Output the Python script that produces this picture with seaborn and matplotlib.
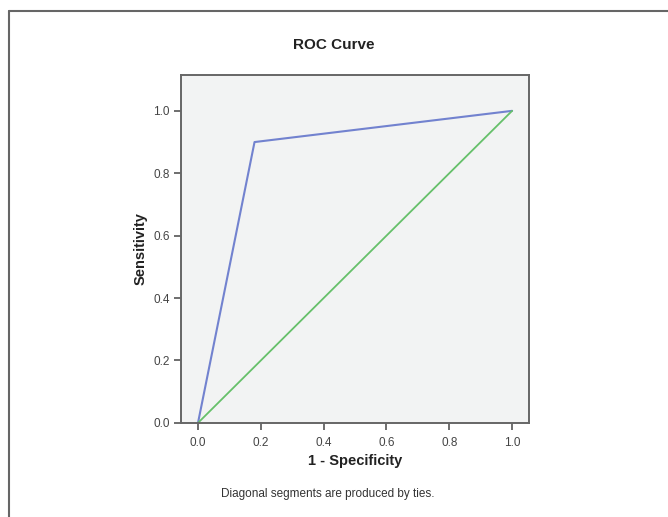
import numpy as np
import pandas as pd
import matplotlib
matplotlib.use("Agg")
import matplotlib.pyplot as plt
import seaborn as sns

# Dados da curva ROC
fpr = [0.0, 0.18, 1.0]
tpr = [0.0, 0.90, 1.0]
ref_x = [0.0, 1.0]
ref_y = [0.0, 1.0]
ticks = [0.0, 0.2, 0.4, 0.6, 0.8, 1.0]
tick_labels = ["0.0", "0.2", "0.4", "0.6", "0.8", "1.0"]

sns.set_theme(style="ticks")
plt.rcParams['font.family'] = ['Liberation Sans', 'DejaVu Sans']

fig = plt.figure(figsize=(6.68, 5.17), dpi=100)
ax = fig.add_axes([0.271, 0.182, 0.521, 0.673])
ax.set_facecolor("#f2f3f3")

roc = pd.DataFrame({"x": fpr, "y": tpr})
ref = pd.DataFrame({"x": ref_x, "y": ref_y})
sns.lineplot(data=roc, x="x", y="y", ax=ax, color="#7282cf", linewidth=1.5, sort=False)
sns.lineplot(data=ref, x="x", y="y", ax=ax, color="#66c06a", linewidth=1.3, sort=False)

ax.set_xlim(-0.054, 1.054)
ax.set_ylim(0.0, 1.115)
ax.set_xticks(ticks)
ax.set_xticklabels(tick_labels)
ax.set_yticks(ticks)
ax.set_yticklabels(tick_labels)
ax.tick_params(axis="both", direction="out", length=5, width=1.2, color="#555555",
               labelsize=8.5, labelcolor="#444444", pad=3)
ax.tick_params(axis="x", pad=5)

for side in ["left", "right", "top", "bottom"]:
    ax.spines[side].set_visible(True)
    ax.spines[side].set_color("#666666")
    ax.spines[side].set_linewidth(1.4)

ax.set_xlabel("1 - Specificity", fontsize=10.5, fontweight="bold", color="#222222", labelpad=4)
ax.set_ylabel("Sensitivity", fontsize=10.5, fontweight="bold", color="#222222", labelpad=4)

fig.text(0.5, 0.913, "ROC Curve", ha="center", va="center", fontsize=11,
         fontweight="bold", color="#222222")
fig.text(0.49, 0.045, "Diagonal segments are produced by ties.", ha="center",
         va="center", fontsize=8.5, color="#333333")

# Moldura externa
fig.add_artist(plt.Line2D([0.0135, 0.0135], [0.0, 0.979], transform=fig.transFigure,
                          color="#666666", linewidth=1.5))
fig.add_artist(plt.Line2D([0.0135, 1.0], [0.979, 0.979], transform=fig.transFigure,
                          color="#666666", linewidth=1.5))

fig.savefig("out.png", dpi=100)
